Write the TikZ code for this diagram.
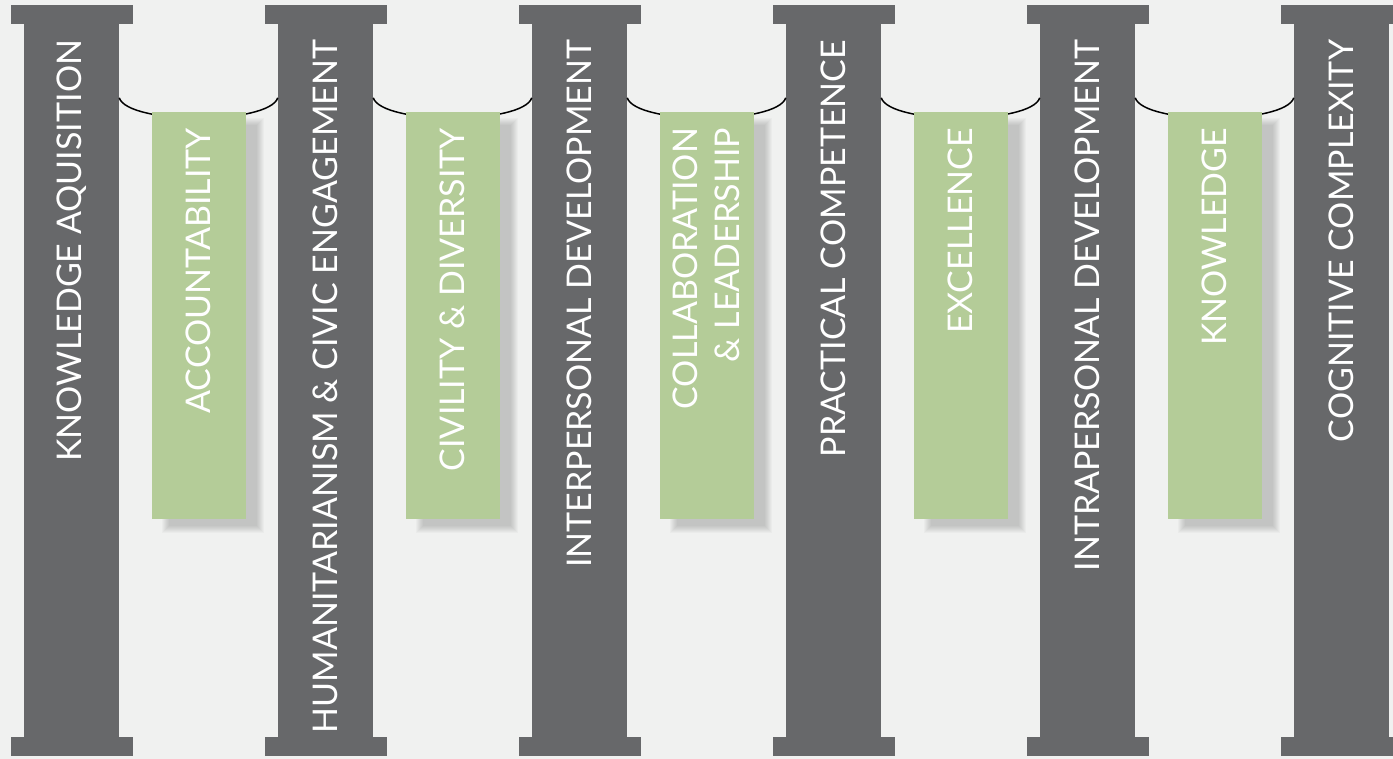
\documentclass[tikz,border=0pt]{standalone}
\usepackage{fontspec}
\setmainfont{Lato}
\usetikzlibrary{calc}
\definecolor{pillargray}{RGB}{103,104,106}
\definecolor{pagebg}{RGB}{240,241,240}
\definecolor{leafgreen}{RGB}{180,204,152}
\tikzset{
  shaft/.style={fill=pillargray, minimum width=95pt, minimum height=713pt, inner sep=0pt},
  slab/.style={fill=pillargray, minimum width=122pt, minimum height=19pt, inner sep=0pt},
  tag/.style={fill=leafgreen, minimum width=94pt, minimum height=407pt, inner sep=0pt},
  rope/.style={line width=1.5pt},
  pillartext/.style={text=white, rotate=90, anchor=east, inner sep=0pt, font=\fontsize{34}{42.5}\selectfont},
  tagtext/.style={pillartext, align=right}
}
\begin{document}
\begin{tikzpicture}[x=1pt,y=-1pt]
\fill[pagebg] (0,0) rectangle (1393,759);
\useasboundingbox (0,0) rectangle (1393,759);
% pillars
\foreach \t [count=\i] in {KNOWLEDGE AQUISITION, HUMANITARIANISM \& CIVIC ENGAGEMENT, INTERPERSONAL DEVELOPMENT, PRACTICAL COMPETENCE, INTRAPERSONAL DEVELOPMENT, COGNITIVE COMPLEXITY} {
  \pgfmathsetmacro\px{71.5+254*(\i-1)}
  \node[shaft] (p\i) at (\px,380.5) {};
  \node[slab] (c\i) at (\px,15) {};
  \node[slab] (f\i) at (\px,746.5) {};
  \node[pillartext] (t\i) at ($(p\i.north)+(0,16)$) {\t};
}
% ropes
\foreach \i [evaluate=\i as \j using int(\i+1)] in {1,...,5}
  \draw[rope] ($(p\i.north east)+(0,74)$) .. controls +(9,27) and +(-9,27) .. ($(p\j.north west)+(0,74)$);
% hanging tags
\foreach \t [count=\i] in {ACCOUNTABILITY, CIVILITY \& DIVERSITY, {COLLABORATION\\\& LEADERSHIP}, EXCELLENCE, KNOWLEDGE} {
  \pgfmathsetmacro\cx{198.5+254*(\i-1)}
  \foreach \k in {0,...,7}
    \fill[black,opacity=0.025] (\cx-37+\k,118+\k) rectangle (\cx+65-\k,533-\k);
  \node[tag] (b\i) at (\cx,315.5) {};
  \node[tagtext] (s\i) at ($(b\i.north)+(0,16)$) {\t};
}
\end{tikzpicture}
\end{document}
